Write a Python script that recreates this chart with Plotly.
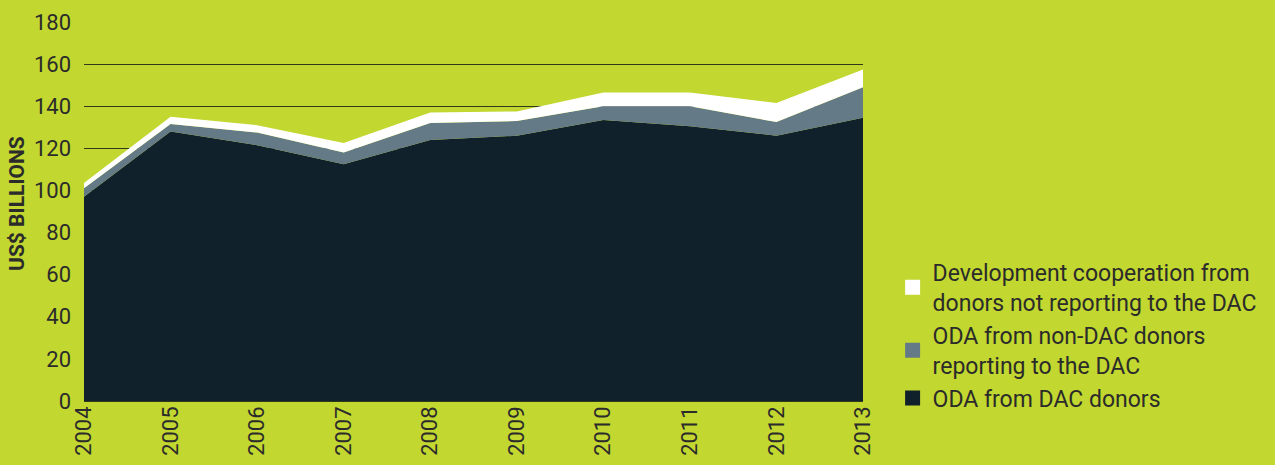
import plotly.graph_objects as go

years = ["2004", "2005", "2006", "2007", "2008", "2009", "2010", "2011", "2012", "2013"]
oda_dac = [97, 128, 121.5, 112.5, 124, 126, 133.5, 130.5, 126, 134.5]
oda_non_dac = [4, 3.5, 6, 5.5, 8, 7, 6.5, 9.5, 6.5, 14.5]
non_reporting = [2.5, 3.5, 3.5, 4.5, 5, 4.5, 6.5, 6.5, 9, 8.5]

names = [
    "ODA from DAC donors",
    "ODA from non-DAC donors<br>reporting to the DAC",
    "Development cooperation from<br>donors not reporting to the DAC",
]
colors = ["#11212b", "#647a87", "#ffffff"]
series = [oda_dac, oda_non_dac, non_reporting]
y_title = "US$ BILLIONS"

BG = "#c2d72f"
TXT = "#2b2b2b"
FONT = "Roboto, Noto Sans, sans-serif"

fig = go.Figure()
for name, col, vals in zip(names, colors, series):
    fig.add_trace(go.Scatter(
        x=years, y=vals, stackgroup="one", mode="lines",
        line=dict(width=0, color=col), fillcolor=col,
        showlegend=False, hoverinfo="skip",
    ))

# legend entries (top to bottom)
for name, col in zip(names[::-1], colors[::-1]):
    fig.add_trace(go.Scatter(
        x=[None], y=[None], mode="markers", name=name,
        marker=dict(symbol="square", size=15, color=col, line=dict(width=0)),
    ))

fig.add_annotation(
    text="<b>" + y_title + "</b>", textangle=-90,
    xref="paper", yref="paper", x=-0.086, y=0.52,
    xanchor="center", yanchor="middle", showarrow=False,
    font=dict(size=21, color=TXT, family=FONT),
)

fig.update_layout(
    width=1275, height=465,
    paper_bgcolor=BG, plot_bgcolor=BG,
    margin=dict(l=84, r=412, t=22, b=64),
    font=dict(family=FONT, color=TXT, size=22),
    showlegend=True,
    legend=dict(
        x=1.038, xanchor="left", y=-0.05, yanchor="bottom",
        bgcolor="rgba(0,0,0,0)", traceorder="normal",
        font=dict(size=23, color=TXT, family=FONT),
        itemsizing="trace", tracegroupgap=0,
    ),
    xaxis=dict(
        type="category", range=[0, 9], showgrid=False, zeroline=False,
        showline=False, ticks="", tickangle=-90, automargin=False,
        tickfont=dict(size=22, color=TXT),
    ),
    yaxis=dict(
        range=[0, 180], dtick=20, tick0=0, automargin=False,
        showgrid=True, gridcolor="#2f3a1a", gridwidth=1,
        zeroline=True, zerolinecolor="#2f3a1a", zerolinewidth=1,
        showline=False, ticks="", ticklabelstandoff=12,
        tickfont=dict(size=22, color=TXT),
    ),
)

fig.write_html(
    "out.html",
    config={"displayModeBar": False},
    post_script="document.body.style.margin='0';document.body.style.padding='0';",
)
